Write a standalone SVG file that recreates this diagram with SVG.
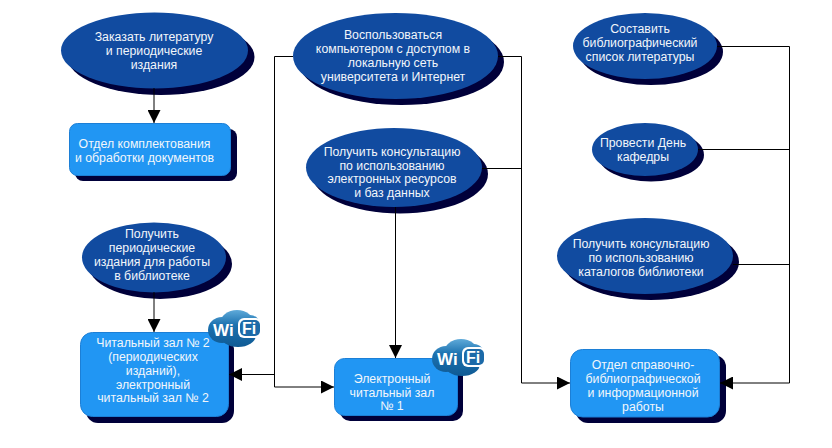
<svg xmlns="http://www.w3.org/2000/svg" xmlns:xlink="http://www.w3.org/1999/xlink" width="832" height="448" viewBox="0 0 832 448">
<style>
.shadow{fill:#00003a}
.oval{fill:#114ba0}
.box{fill:#2196f3;stroke:#1c7fd6;stroke-width:1}
text{font-family:"Liberation Sans",Arial,sans-serif;font-size:12.300px;fill:#f2f6fb;text-anchor:middle}
.wi{font-weight:bold;font-size:17px;text-anchor:start;fill:#fff}
.fi{font-weight:bold;font-size:16px;text-anchor:start;fill:#fff}
.con{fill:none;stroke:#000;stroke-width:1}
.cl{fill:url(#cloud)}
</style>
<defs>
<marker id="arrow" viewBox="0 0 13 13" refX="13" refY="6.5" markerWidth="13" markerHeight="13" markerUnits="userSpaceOnUse" orient="auto"><path d="M0 0L13 6.5L0 13Z" fill="#000"/></marker>
<linearGradient id="cloud" gradientUnits="userSpaceOnUse" x1="0" y1="0" x2="0" y2="37"><stop offset="0" stop-color="#5faad9"/><stop offset="0.4" stop-color="#1c72b0"/><stop offset="1" stop-color="#0f5a94"/></linearGradient>
<g id="wifi-logo">
<ellipse class="cl" cx="14" cy="20" rx="14" ry="13"/>
<ellipse class="cl" cx="29" cy="14" rx="17" ry="14"/>
<ellipse class="cl" cx="30" cy="25" rx="18" ry="12"/>
<ellipse class="cl" cx="42" cy="17" rx="11" ry="12"/>
<rect x="30" y="8" width="24" height="20" rx="6" fill="#fff"/>
<rect x="32" y="10" width="20" height="16" rx="5" fill="#1c6aa8"/>
<text class="wi" x="5" y="25.500">Wi</text>
<text class="fi" x="34" y="24">Fi</text>
</g>
</defs>
<rect width="832" height="448" fill="#fff"/>

<g id="n1"><ellipse class="shadow" cx="161" cy="57" rx="93.500" ry="38"/><ellipse class="oval" cx="154.500" cy="50.500" rx="93.500" ry="38"/>
<text x="154" y="41">Заказать литературу</text><text x="154" y="55">и периодические</text><text x="154" y="69">издания</text></g>
<g id="n2"><rect class="shadow" x="75" y="129" width="162" height="52" rx="8"/><rect class="box" x="69.500" y="123.500" width="161" height="52" rx="8"/>
<text x="144.500" y="148">Отдел комплектования</text><text x="144.500" y="162">и обработки документов</text></g>
<g id="n3"><ellipse class="shadow" cx="160" cy="264" rx="72" ry="35"/><ellipse class="oval" cx="154" cy="257.500" rx="72" ry="35"/>
<text x="152" y="238">Получить</text><text x="152" y="252">периодические</text><text x="152" y="266">издания для работы</text><text x="152" y="280">в библиотеке</text></g>
<g id="n4"><rect class="shadow" x="86" y="338" width="148" height="85" rx="12"/><rect class="box" x="80.500" y="332.500" width="148" height="84" rx="12"/>
<text x="153" y="347">Читальный зал № 2</text><text x="153" y="361">(периодических</text><text x="153" y="375">изданий),</text><text x="153" y="389">электронный</text><text x="153" y="402">читальный зал № 2</text></g>
<g id="n5"><ellipse class="shadow" cx="401.500" cy="62" rx="102.500" ry="43"/><ellipse class="oval" cx="395.500" cy="56" rx="102.500" ry="43"/>
<text x="393" y="39">Воспользоваться</text><text x="393" y="53">компьютером с доступом в</text><text x="393" y="67">локальную сеть</text><text x="393" y="81">университета и Интернет</text></g>
<g id="n6"><ellipse class="shadow" cx="400" cy="174" rx="88" ry="39.500"/><ellipse class="oval" cx="394" cy="167.500" rx="88" ry="39.500"/>
<text x="392" y="156">Получить консультацию</text><text x="392" y="170">по использованию</text><text x="392" y="183">электронных ресурсов</text><text x="392" y="197">и баз данных</text></g>
<g id="n7"><rect class="shadow" x="340" y="364" width="123" height="57" rx="10"/><rect class="box" x="334.500" y="358.500" width="123" height="57" rx="10"/>
<text x="392" y="383">Электронный</text><text x="392" y="397">читальный зал</text><text x="392" y="410">№ 1</text></g>
<g id="n8"><ellipse class="shadow" cx="651" cy="52" rx="72" ry="33"/><ellipse class="oval" cx="645" cy="46" rx="72" ry="33"/>
<text x="640" y="33">Составить</text><text x="640" y="47">библиографический</text><text x="640" y="61">список литературы</text></g>
<g id="n9"><ellipse class="shadow" cx="651" cy="155" rx="53" ry="26.500"/><ellipse class="oval" cx="645" cy="149.500" rx="53" ry="26.500"/>
<text x="643" y="147">Провести День</text><text x="643" y="161">кафедры</text></g>
<g id="n10"><ellipse class="shadow" cx="651" cy="262" rx="88" ry="38"/><ellipse class="oval" cx="645" cy="256" rx="88" ry="38"/>
<text x="641" y="248">Получить консультацию</text><text x="641" y="262">по использованию</text><text x="641" y="276">каталогов библиотеки</text></g>
<g id="n11"><rect class="shadow" x="576" y="355" width="150" height="68" rx="12"/><rect class="box" x="570.500" y="349.500" width="149" height="67.500" rx="12"/>
<text x="643" y="369">Отдел справочно-</text><text x="643" y="383">библиографической</text><text x="643" y="397">и информационной</text><text x="643" y="411">работы</text></g>

<g id="connectors">
<path class="con" d="M154 88V123" marker-end="url(#arrow)"/>
<path class="con" d="M154 292V332" marker-end="url(#arrow)"/>
<path class="con" d="M293 56.500H274.500V387H334" marker-end="url(#arrow)"/>
<path class="con" d="M274.500 374.500H229" marker-end="url(#arrow)"/>
<path class="con" d="M498 56.500H521.500V383H570" marker-end="url(#arrow)"/>
<path class="con" d="M482 168.500H521.500"/>
<path class="con" d="M395.500 207V358" marker-end="url(#arrow)"/>
<path class="con" d="M717 46.500H789.500V383H720" marker-end="url(#arrow)"/>
<path class="con" d="M698 149.500H789.500"/>
<path class="con" d="M733 264.500H789.500"/>
</g>

<g id="wifi1"><use href="#wifi-logo" xlink:href="#wifi-logo" x="208" y="310"/></g>
<g id="wifi2"><use href="#wifi-logo" xlink:href="#wifi-logo" x="432" y="339"/></g>
</svg>
